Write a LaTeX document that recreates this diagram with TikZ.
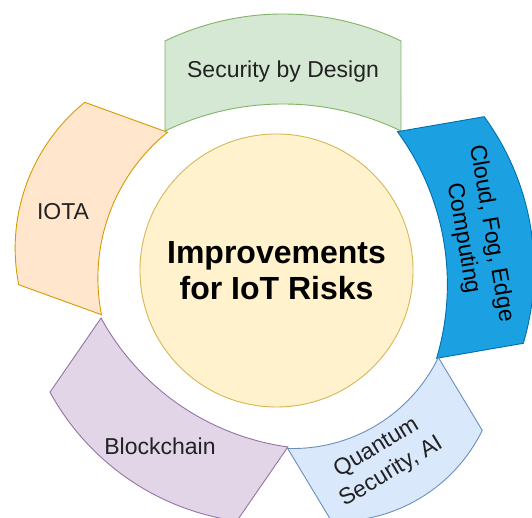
\documentclass[tikz,border=0pt]{standalone}
\usepackage{fontspec}
\setmainfont{Liberation Sans}
\definecolor{secfill}{HTML}{D5E8D4}\definecolor{secdraw}{HTML}{82B366}
\definecolor{cldfill}{HTML}{1BA1E2}\definecolor{clddraw}{HTML}{006EAF}
\definecolor{qtfill}{HTML}{DAE8FC}\definecolor{qtdraw}{HTML}{6C8EBF}
\definecolor{bcfill}{HTML}{E1D5E7}\definecolor{bcdraw}{HTML}{9673A6}
\definecolor{iofill}{HTML}{FFE6CC}\definecolor{iodraw}{HTML}{D79B00}
\definecolor{hubfill}{HTML}{FFF2CC}\definecolor{hubdraw}{HTML}{D6B656}
\definecolor{lblcol}{HTML}{222222}
% #1 x, #2 y of inner chord midpoint, #3 rotation, #4 chord, #5 sagitta, #6 thickness, #7 style
\newcommand{\segshape}[7]{%
  \begin{scope}[shift={(#1,#2)}, rotate=#3]
    \pgfmathsetmacro{\segR}{10*((#4/20)^2+(#5/10)^2)/(2*#5/10)}
    \pgfmathsetmacro{\segA}{atan2(\segR-#5, #4/2)}
    \pgfmathsetmacro{\segB}{180-\segA}
    \path[#7] (#4/2,0) arc[start angle=\segA, end angle=\segB, radius=\segR pt]
      -- (-#4/2,#6) arc[start angle=\segB, end angle=\segA, radius=\segR pt] -- cycle;
  \end{scope}}
\tikzset{
  segbase/.style={line width=0.9pt, line join=miter},
  secseg/.style={segbase, fill=secfill, draw=secdraw},
  cldseg/.style={segbase, fill=cldfill, draw=clddraw},
  qtseg/.style={segbase, fill=qtfill, draw=qtdraw},
  bcseg/.style={segbase, fill=bcfill, draw=bcdraw},
  ioseg/.style={segbase, fill=iofill, draw=iodraw},
  lbl/.style={font=\fontsize{23}{28.5}\selectfont, text=lblcol, align=center, inner sep=0pt},
  hubstyle/.style={circle, minimum size=273pt, inner sep=0pt, fill=hubfill, draw=hubdraw,
    line width=0.9pt, align=center, font=\bfseries\fontsize{32}{37}\selectfont}
}
\begin{document}
\begin{tikzpicture}[x=1pt,y=1pt]
\useasboundingbox (0,0) rectangle (532,518);
\clip (0,0) rectangle (532,518);
\fill[white] (0,0) rectangle (532,518);
% segments
\segshape{283}{387}{0}{236}{27}{90}{secseg}
\segshape{417}{273}{-80.2}{230}{27}{88}{cldseg}
\segshape{363}{115}{-148.9}{176}{26}{85}{qtseg}
\segshape{194.5}{135.5}{145.4}{227}{27}{90}{bcseg}
\segshape{134.5}{294.5}{70.1}{194}{27}{88}{ioseg}
% hub
\node[hubstyle] (hub) at (276.5,247.5) {Improvements\\[-1pt]for IoT Risks};
% labels
\node[lbl] (lsec) at (283,446) {Security by Design};
\node[lbl, rotate=-80.2, text=black] (lcld) at (477,282) {Cloud, Fog, Edge\\Computing};
\node[lbl, rotate=31.1] (lqt) at (384,58) {Quantum\\Security, AI};
\node[lbl] (lbc) at (160,72) {Blockchain};
\node[lbl] (lio) at (63,306) {IOTA};
\end{tikzpicture}
\end{document}
